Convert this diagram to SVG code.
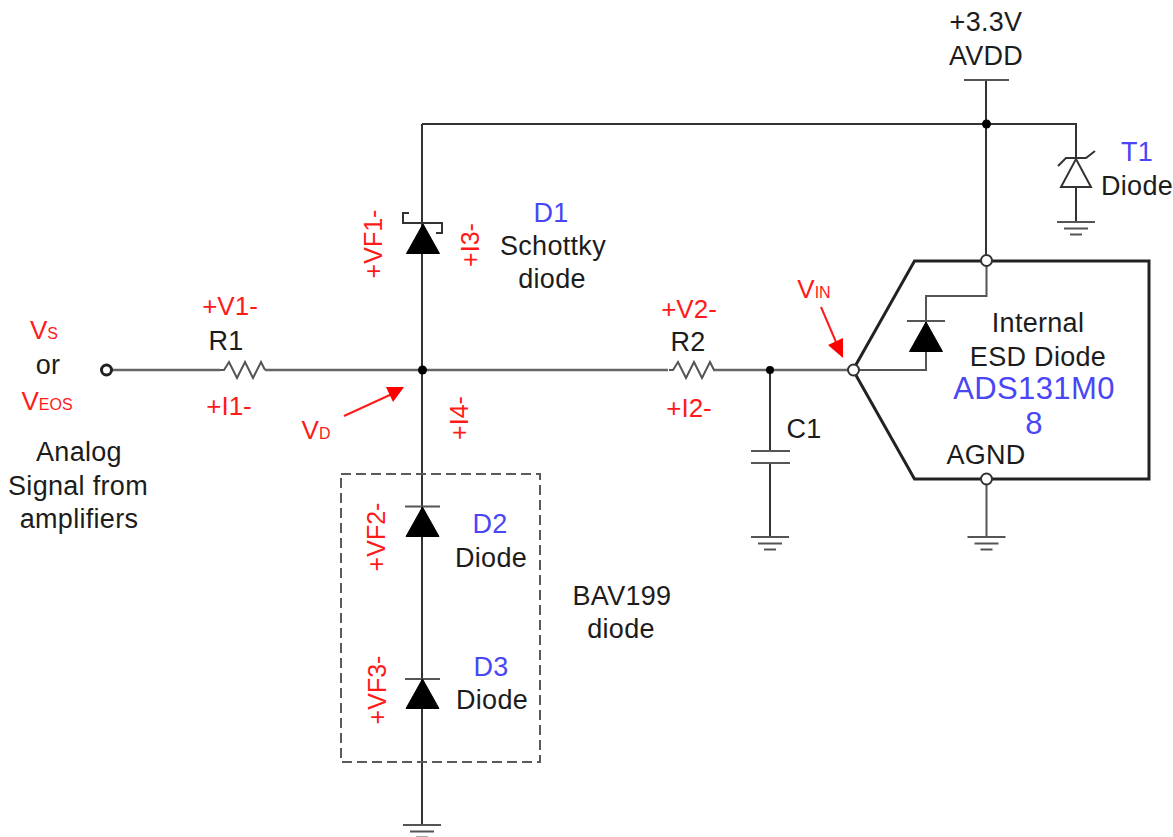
<svg xmlns="http://www.w3.org/2000/svg" width="1173" height="837" viewBox="0 0 1173 837">
<style>
text{font-family:"Liberation Sans",Arial,sans-serif;font-size:27px;letter-spacing:.3px;fill:#1c1c1c;text-anchor:middle}
.r{fill:#ff1a1a;font-size:26px;letter-spacing:0}
.rot{fill:#ff1a1a;font-size:25px;letter-spacing:0}
.b{fill:#4a46f5}
.big{font-size:31px;letter-spacing:.4px}
.s{font-size:16px}
.w{fill:none;stroke:#333;stroke-width:2}
.g{fill:none;stroke:#555;stroke-width:2}
.h{fill:none;stroke:#666;stroke-width:2.500}
.k{fill:#000;stroke:#000;stroke-width:1}
.arrow{fill:none;stroke:#ff1a1a;stroke-width:2}
.arrowhead{fill:#f00}
</style>
<defs>
<g id="gnd" class="g"><path d="M-19 0H19M-12 6.500H12M-6 12.500H6"/></g>
<path id="res" class="g" d="M0 0H4L9 -8 17 8 25 -8 33 8 41 -8 45 0"/>
<path id="tri" class="k" d="M0 0L16.500 29.500H-16.500Z"/>
</defs>
<rect width="1173" height="837" fill="#fff"/>
<g id="connectors">
<path class="w" d="M422 124H1076V222"/>
<path class="w" d="M986 80V260"/>
<path class="w" d="M422 124V370"/>
<path class="h" d="M110 370H220M265 370H668M713 370H848"/>
<path class="w" d="M422 370V825"/>
<path class="w" d="M770 370V451M770 463V537"/>
<path class="g" d="M858 370H926V296H986.500V265"/>
<path class="g" d="M986.500 484V537"/>
</g>
<g id="avdd"><path class="g" d="M964 80H1009"/><text x="986" y="31">+3.3V</text><text x="986" y="65">AVDD</text></g>
<g id="j1"><circle cx="986.500" cy="124" r="4.500" fill="#000"/></g>
<g id="j2"><circle cx="422.500" cy="370" r="4.500" fill="#000"/></g>
<g id="j3"><circle cx="770" cy="370" r="4" fill="#000"/></g>
<g id="t1">
<path d="M1076 159L1091 187H1061Z" fill="#fff" stroke="#333" stroke-width="2"/>
<path class="w" d="M1058 166L1066 158H1086L1095 151"/>
<use href="#gnd" x="1076" y="222"/>
<text class="b" x="1137" y="161">T1</text><text x="1137" y="195">Diode</text>
</g>
<g id="d1">
<use href="#tri" x="423" y="224"/>
<path class="w" d="M409 213H403V223H442V233H436"/>
<text class="b" x="551" y="222">D1</text><text x="553" y="255">Schottky</text><text x="552" y="288">diode</text>
<text class="rot" transform="translate(382 244) rotate(-90)" x="0" y="0">+VF1-</text>
<text class="rot" transform="translate(479 245) rotate(-90)" x="0" y="0">+I3-</text>
</g>
<g id="r1"><use href="#res" x="220" y="370"/><text x="226" y="350">R1</text><text class="r" x="230" y="315">+V1-</text><text class="r" x="229" y="415">+I1-</text></g>
<g id="r2"><use href="#res" x="669" y="370"/><text x="688" y="351">R2</text><text class="r" x="689" y="318">+V2-</text><text class="r" x="689" y="417">+I2-</text></g>
<g id="c1"><path class="g" d="M751 451H790M751 463H790"/><use href="#gnd" x="770" y="537"/><text x="804" y="438">C1</text></g>
<g id="source">
<circle cx="106.500" cy="370" r="5" fill="#fff" stroke="#222" stroke-width="3"/>
<text class="r" x="44" y="339">V<tspan class="s">S</tspan></text>
<text x="48" y="374">or</text>
<text class="r" x="47" y="410">V<tspan class="s">EOS</tspan></text>
<text x="79" y="461">Analog</text><text x="78" y="495">Signal from</text><text x="79" y="528">amplifiers</text>
</g>
<g id="vd">
<text class="r" x="316" y="439">V<tspan class="s">D</tspan></text>
<path class="arrow" d="M344 416L392 394"/><path class="arrowhead" d="M404 387H386L393 402Z"/>
<text class="rot" transform="translate(468 418) rotate(-90)" x="0" y="0">+I4-</text>
</g>
<g id="bav199">
<rect x="341" y="474" width="199" height="288" fill="none" stroke="#5a5a5a" stroke-width="2" stroke-dasharray="10 5"/>
<text x="622" y="605">BAV199</text><text x="621" y="638">diode</text>
</g>
<g id="d2">
<path class="g" d="M405 506.500H440"/><use href="#tri" x="422.500" y="507"/>
<text class="b" x="490" y="533">D2</text><text x="491" y="567">Diode</text>
<text class="rot" transform="translate(385 537) rotate(-90)" x="0" y="0">+VF2-</text>
</g>
<g id="d3">
<path class="g" d="M405 679H440"/><use href="#tri" x="422.500" y="679"/>
<text class="b" x="491" y="676">D3</text><text x="492" y="709">Diode</text>
<text class="rot" transform="translate(386 690) rotate(-90)" x="0" y="0">+VF3-</text>
</g>
<g id="gnd-d"><use href="#gnd" x="422" y="825"/></g>
<g id="ic">
<path d="M853 370L914.500 261H1149V479H914.500Z" fill="none" stroke="#222" stroke-width="3"/>
<circle cx="853.500" cy="370" r="5.500" fill="#fff" stroke="#333" stroke-width="2"/>
<circle cx="986.500" cy="260.500" r="5.500" fill="#fff" stroke="#333" stroke-width="2"/>
<circle cx="986.500" cy="479" r="5.500" fill="#fff" stroke="#333" stroke-width="2"/>
<path class="g" d="M907 321H945"/><use href="#tri" x="926" y="322"/>
<text x="1038" y="332">Internal</text><text x="1038" y="366">ESD Diode</text>
<text class="b big" x="1034" y="399">ADS131M0</text><text class="b big" x="1034" y="434">8</text>
<text x="986" y="464">AGND</text>
<use href="#gnd" x="986.500" y="537"/>
</g>
<g id="vin">
<text class="r" x="814" y="298">V<tspan class="s">IN</tspan></text>
<path class="arrow" d="M821 307L836 342"/><path class="arrowhead" d="M843 358L828 345 843 338Z"/>
</g>
</svg>
